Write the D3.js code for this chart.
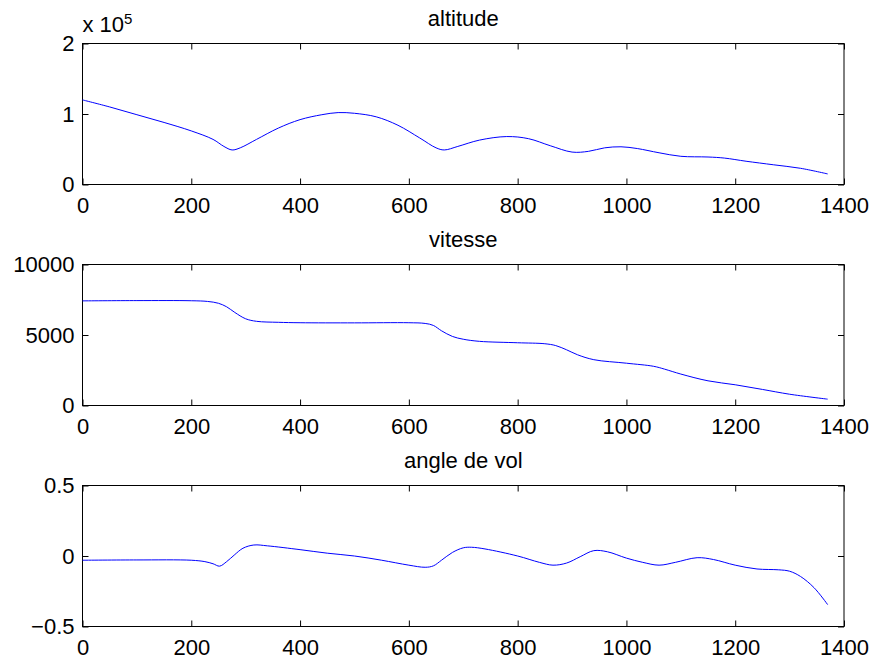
<!DOCTYPE html>
<html>
<head>
<meta charset="utf-8">
<script src="https://cdn.jsdelivr.net/npm/d3@7"></script>
<style>
  body { margin: 0; background: #fff; }
  text { font-family: "Liberation Sans", Arial, Helvetica, sans-serif; fill: #000; }
</style>
</head>
<body>
<svg class="chart"></svg>
<script>
// time axis shared by all three plots
const xTicks = [0, 200, 400, 600, 800, 1000, 1200, 1400]

// altitude (m)
const altT = [0, 50, 100, 150, 200, 240, 260, 275, 290, 320, 360, 400, 440, 470, 500, 540, 580, 620, 650, 665, 690, 730, 780, 820, 860, 900, 930, 960, 990, 1020, 1060, 1100, 1150, 1180, 1220, 1270, 1320, 1370]
const altV = [120000, 110000, 99000, 88000, 76000, 64000, 54000, 49000, 52000, 64000, 80000, 92000, 99000, 102000, 101000, 96000, 84000, 66000, 52000, 49000, 54000, 63000, 68000, 65000, 55000, 46000, 47000, 52000, 53500, 51000, 45000, 40000, 39000, 37500, 33000, 28000, 23000, 15000]
const altTicks = [0, 100000, 200000]

// vitesse (m/s)
const velT = [0, 100, 200, 230, 250, 265, 280, 300, 320, 360, 400, 500, 600, 630, 645, 660, 680, 700, 730, 800, 850, 870, 890, 910, 940, 1000, 1050, 1070, 1100, 1150, 1200, 1250, 1300, 1370]
const velV = [7420, 7440, 7430, 7380, 7250, 7000, 6600, 6150, 5970, 5900, 5870, 5860, 5870, 5820, 5680, 5300, 4900, 4700, 4550, 4450, 4380, 4250, 3950, 3600, 3250, 3000, 2780, 2580, 2230, 1750, 1470, 1140, 800, 450]
const velTicks = [0, 5000, 10000]

// angle de vol (rad)
const angT = [0, 100, 200, 225, 240, 252, 265, 280, 295, 315, 340, 400, 450, 500, 550, 600, 630, 645, 660, 680, 700, 715, 740, 800, 840, 865, 890, 915, 940, 965, 1000, 1030, 1060, 1090, 1130, 1160, 1200, 1240, 1280, 1300, 1320, 1345, 1370]
const angV = [-0.03, -0.028, -0.03, -0.04, -0.055, -0.072, -0.04, 0.01, 0.055, 0.078, 0.072, 0.045, 0.02, 0, -0.03, -0.065, -0.08, -0.07, -0.03, 0.025, 0.058, 0.062, 0.05, 0.0, -0.045, -0.065, -0.05, -0.005, 0.038, 0.03, -0.015, -0.045, -0.065, -0.045, -0.012, -0.025, -0.065, -0.092, -0.098, -0.108, -0.145, -0.225, -0.345]
const angTicks = [-0.5, 0, 0.5]

const width = 878, height = 664
const left = 82.5, right = 844, plotH = 141
const fontSize = 22

let chart = d3.select(".chart")
    .attr("width", width)
    .attr("height", height)

let x = d3.scaleLinear().domain([0, 1400]).range([left, right])

drawPlot(43.5, "altitude", altT, altV, [0, 200000], altTicks, d => d / 100000)
drawPlot(264.5, "vitesse", velT, velV, [0, 10000], velTicks, d => d)
drawPlot(485.5, "angle de vol", angT, angV, [-0.5, 0.5], angTicks, d => d < 0 ? "\u2212" + Math.abs(d) : d)

// exponent label for the altitude axis
let expo = chart.append("text")
    .attr("x", 82.5)
    .attr("y", 32)
    .style("font-size", fontSize + "px")
    .text("x 10")
expo.append("tspan")
    .attr("dy", -8)
    .style("font-size", "15px")
    .text("5")

function drawPlot(top, title, ts, vs, yDomain, yTicks, fmt){
  let bottom = top + plotH
  let y = d3.scaleLinear().domain(yDomain).range([bottom, top])
  let g = chart.append("g")

  //bottom axis with labels, ticks pointing inward
  g.append("g")
    .attr("transform", "translate(0," + bottom + ")")
    .call(d3.axisBottom(x).tickValues(xTicks).tickSize(-6).tickSizeOuter(0).tickPadding(13).tickFormat(d3.format("d")))
  g.append("g")
    .attr("transform", "translate(0," + top + ")")
    .call(d3.axisTop(x).tickValues(xTicks).tickSize(-6).tickSizeOuter(0).tickFormat(""))
  g.append("g")
    .attr("transform", "translate(" + left + ",0)")
    .call(d3.axisLeft(y).tickValues(yTicks).tickSize(-6).tickSizeOuter(0).tickPadding(8).tickFormat(fmt))
  g.append("g")
    .attr("transform", "translate(" + right + ",0)")
    .call(d3.axisRight(y).tickValues(yTicks).tickSize(-6).tickSizeOuter(0).tickFormat(""))

  g.selectAll(".domain").remove()
  g.selectAll(".tick line").attr("stroke", "#000")
  g.selectAll(".tick text")
    .attr("fill", "#000")
    .style("font-size", fontSize + "px")
    .style("font-family", "'Liberation Sans', Arial, Helvetica, sans-serif")

  //box around the axes
  g.append("rect")
    .attr("x", left)
    .attr("y", top)
    .attr("width", right - left)
    .attr("height", plotH)
    .attr("fill", "none")
    .attr("stroke", "#000")
    .attr("stroke-width", 1)

  let line = d3.line()
    .x(d => x(d[0]))
    .y(d => y(d[1]))
    .curve(d3.curveCatmullRom.alpha(0.5))

  g.append("path")
    .datum(d3.zip(ts, vs))
    .attr("d", line)
    .attr("fill", "none")
    .attr("stroke", "#0000ff")
    .attr("stroke-width", 1)

  g.append("text")
    .attr("x", (left + right) / 2)
    .attr("y", top - 18)
    .attr("text-anchor", "middle")
    .style("font-size", fontSize + "px")
    .text(title)
}
</script>
</body>
</html>
